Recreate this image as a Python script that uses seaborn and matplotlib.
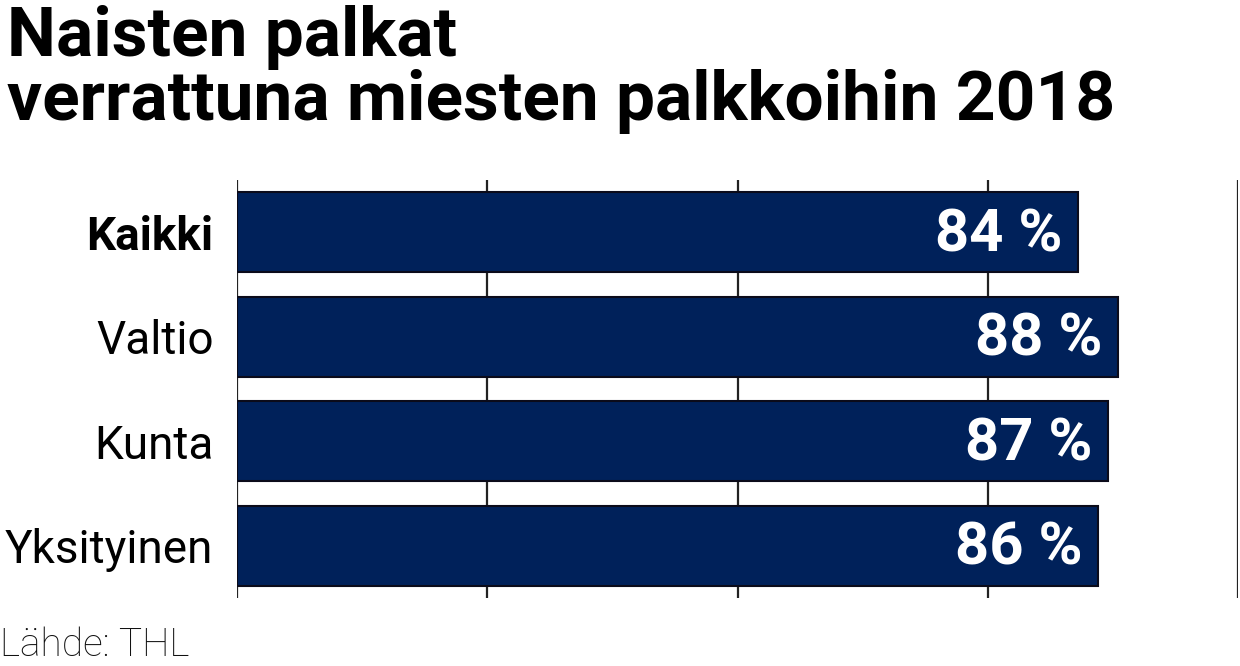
import matplotlib
matplotlib.use("Agg")
import matplotlib.pyplot as plt
import seaborn as sns
import pandas as pd

categories = ["Kaikki", "Valtio", "Kunta", "Yksityinen"]
values = [84, 88, 87, 86]
value_labels = ["84 %", "88 %", "87 %", "86 %"]
xticks = [0, 25, 50, 75, 100]
title = "Naisten palkat\nverrattuna miesten palkkoihin 2018"
source = "Lähde: THL"

sns.set_style("white")
plt.rcParams["font.family"] = ["Roboto", "DejaVu Sans"]
plt.rcParams["text.color"] = "black"
plt.rcParams["ytick.color"] = "black"

df = pd.DataFrame({"cat": categories, "val": values})

fig = plt.figure(figsize=(12.4, 6.66), dpi=100)
ax = fig.add_axes([237/1240, 1-598/666, (1238-237)/1240, 418/666])

sns.barplot(data=df, y="cat", x="val", color="#00215a", saturation=1,
            width=0.77, edgecolor="#0b0b1a", linewidth=1.5, ax=ax, zorder=3)

ax.set_xlim(0, 100)
ax.set_ylim(3.5, -0.5)
for xt in xticks:
    ax.axvline(xt, color="#222222", lw=1.6, zorder=1)
for s in ax.spines.values():
    s.set_visible(False)
ax.set_xticks([])
ax.set_xlabel("")
ax.set_ylabel("")
ax.set_yticks(range(len(categories)))
ax.set_yticklabels(categories, fontsize=33, color="black")
ax.tick_params(axis="y", length=0, pad=17)
for lbl in ax.get_yticklabels():
    if lbl.get_text() == "Kaikki":
        lbl.set_fontweight("bold")

for i, (v, t) in enumerate(zip(values, value_labels)):
    ax.text(v - 1.5, i + 0.03, t, ha="right", va="center", color="white",
            fontsize=43, fontweight="bold", zorder=5)

fig.text(0.006, 1-5/666, title, ha="left", va="top", fontsize=50,
         fontweight="bold", linespacing=0.98, color="black")
fig.text(0.0, 1-664/666, source, ha="left", va="bottom", fontsize=28,
         fontweight="light", color="#111111")

fig.savefig("out.png", dpi=100)
